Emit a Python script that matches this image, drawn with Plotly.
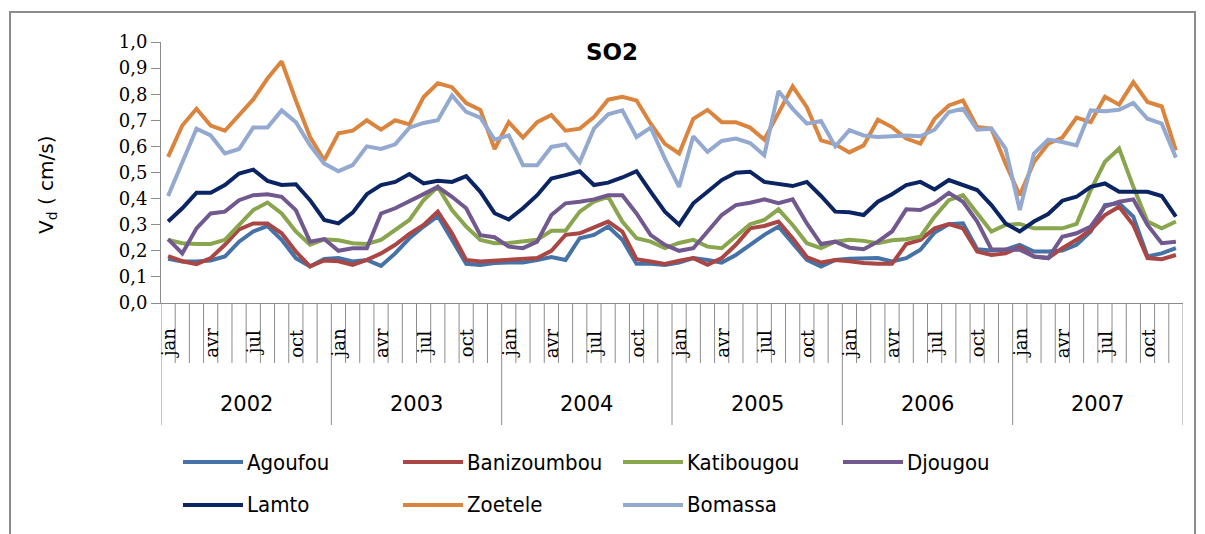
import plotly.graph_objects as go

# Monthly SO2 deposition velocity (cm/s), Jan 2002 - Dec 2007
years = ["2002", "2003", "2004", "2005", "2006", "2007"]
month_labels = ["jan", "", "", "avr", "", "", "jul", "", "", "oct", "", ""]

agoufou = [
    0.169, 0.159, 0.159, 0.163, 0.178, 0.235, 0.274, 0.295, 0.242, 0.172, 0.140, 0.169,
    0.172, 0.159, 0.165, 0.142, 0.190, 0.248, 0.293, 0.333, 0.242, 0.150, 0.146, 0.153,
    0.155, 0.155, 0.165, 0.176, 0.165, 0.248, 0.261, 0.293, 0.242, 0.150, 0.150, 0.146,
    0.155, 0.172, 0.165, 0.155, 0.184, 0.223, 0.261, 0.293, 0.229, 0.165, 0.140, 0.165,
    0.170, 0.172, 0.172, 0.159, 0.172, 0.204, 0.270, 0.302, 0.305, 0.206, 0.201, 0.204,
    0.223, 0.197, 0.197, 0.201, 0.223, 0.274, 0.375, 0.382, 0.331, 0.178, 0.190, 0.210,
]
banizoumbou = [
    0.180, 0.160, 0.149, 0.172, 0.223, 0.282, 0.305, 0.305, 0.267, 0.197, 0.140, 0.163,
    0.160, 0.146, 0.165, 0.190, 0.223, 0.265, 0.299, 0.350, 0.267, 0.165, 0.159, 0.163,
    0.164, 0.168, 0.172, 0.200, 0.261, 0.267, 0.289, 0.312, 0.274, 0.168, 0.159, 0.150,
    0.162, 0.172, 0.146, 0.172, 0.223, 0.286, 0.295, 0.312, 0.248, 0.176, 0.155, 0.165,
    0.160, 0.153, 0.150, 0.150, 0.226, 0.242, 0.286, 0.302, 0.286, 0.197, 0.184, 0.190,
    0.214, 0.178, 0.172, 0.210, 0.242, 0.280, 0.337, 0.369, 0.299, 0.172, 0.168, 0.184,
]
katibougou = [
    0.242, 0.229, 0.226, 0.226, 0.242, 0.300, 0.356, 0.385, 0.343, 0.274, 0.223, 0.244,
    0.240, 0.229, 0.226, 0.242, 0.280, 0.318, 0.394, 0.445, 0.356, 0.293, 0.242, 0.229,
    0.230, 0.235, 0.242, 0.277, 0.277, 0.350, 0.388, 0.407, 0.312, 0.248, 0.235, 0.210,
    0.230, 0.242, 0.216, 0.210, 0.254, 0.302, 0.318, 0.359, 0.299, 0.229, 0.210, 0.235,
    0.242, 0.238, 0.229, 0.240, 0.244, 0.254, 0.331, 0.394, 0.413, 0.343, 0.274, 0.299,
    0.303, 0.286, 0.286, 0.286, 0.303, 0.433, 0.541, 0.592, 0.445, 0.312, 0.286, 0.312,
]
djougou = [
    0.245, 0.190, 0.286, 0.343, 0.350, 0.394, 0.413, 0.417, 0.407, 0.356, 0.235, 0.245,
    0.200, 0.210, 0.210, 0.343, 0.363, 0.388, 0.417, 0.445, 0.407, 0.363, 0.260, 0.252,
    0.216, 0.210, 0.235, 0.337, 0.382, 0.388, 0.397, 0.413, 0.413, 0.343, 0.260, 0.223,
    0.200, 0.210, 0.274, 0.337, 0.375, 0.384, 0.397, 0.382, 0.397, 0.305, 0.226, 0.235,
    0.212, 0.206, 0.235, 0.274, 0.359, 0.356, 0.382, 0.422, 0.388, 0.312, 0.206, 0.206,
    0.204, 0.178, 0.172, 0.254, 0.267, 0.293, 0.369, 0.388, 0.397, 0.299, 0.229, 0.235,
]
lamto = [
    0.312, 0.363, 0.422, 0.422, 0.452, 0.496, 0.511, 0.468, 0.452, 0.455, 0.394, 0.318,
    0.305, 0.346, 0.417, 0.452, 0.464, 0.494, 0.458, 0.468, 0.464, 0.486, 0.426, 0.344,
    0.320, 0.363, 0.413, 0.477, 0.490, 0.505, 0.452, 0.461, 0.481, 0.505, 0.426, 0.350,
    0.300, 0.382, 0.426, 0.471, 0.499, 0.503, 0.464, 0.455, 0.448, 0.464, 0.410, 0.350,
    0.348, 0.337, 0.388, 0.417, 0.452, 0.464, 0.435, 0.471, 0.452, 0.433, 0.375, 0.305,
    0.274, 0.312, 0.341, 0.392, 0.407, 0.445, 0.458, 0.426, 0.426, 0.426, 0.410, 0.331,
]
zoetele = [
    0.560, 0.680, 0.744, 0.680, 0.660, 0.720, 0.780, 0.860, 0.926, 0.776, 0.636, 0.547,
    0.650, 0.660, 0.700, 0.664, 0.700, 0.684, 0.789, 0.842, 0.827, 0.766, 0.740, 0.590,
    0.693, 0.634, 0.693, 0.720, 0.660, 0.668, 0.712, 0.779, 0.790, 0.776, 0.687, 0.610,
    0.573, 0.706, 0.740, 0.693, 0.693, 0.672, 0.626, 0.728, 0.830, 0.750, 0.623, 0.608,
    0.577, 0.604, 0.702, 0.674, 0.630, 0.611, 0.706, 0.757, 0.776, 0.674, 0.668, 0.534,
    0.413, 0.540, 0.610, 0.634, 0.710, 0.693, 0.790, 0.760, 0.846, 0.770, 0.753, 0.585,
]
bomassa = [
    0.410, 0.540, 0.668, 0.642, 0.573, 0.590, 0.672, 0.672, 0.738, 0.693, 0.604, 0.534,
    0.505, 0.528, 0.600, 0.590, 0.608, 0.672, 0.690, 0.700, 0.795, 0.732, 0.710, 0.626,
    0.642, 0.528, 0.528, 0.598, 0.608, 0.540, 0.668, 0.723, 0.738, 0.636, 0.672, 0.553,
    0.445, 0.639, 0.579, 0.621, 0.630, 0.613, 0.566, 0.812, 0.744, 0.687, 0.697, 0.600,
    0.662, 0.642, 0.636, 0.639, 0.642, 0.639, 0.664, 0.732, 0.744, 0.664, 0.668, 0.592,
    0.356, 0.573, 0.626, 0.617, 0.604, 0.738, 0.735, 0.740, 0.766, 0.706, 0.687, 0.557,
]

series_names = ["Agoufou", "Banizoumbou", "Katibougou", "Djougou", "Lamto", "Zoetele", "Bomassa"]
series_values = [agoufou, banizoumbou, katibougou, djougou, lamto, zoetele, bomassa]
series_colors = ["#4572A7", "#AA4643", "#89A54E", "#71588F", "#0B2463", "#DB843D", "#93A9CF"]

W, H = 1205, 534
L, R, T, B = 161, 22, 42, 231
plot_w = W - L - R
plot_h = H - T - B


def px_x(p):
    return (p - L) / plot_w


def px_y(p):
    return (H - B - p) / plot_h


n_months = len(years) * 12
x_idx = list(range(n_months))

fig = go.Figure()
for name, vals, col in zip(series_names, series_values, series_colors):
    fig.add_trace(go.Scatter(
        x=x_idx, y=vals, mode="lines", name=name,
        line=dict(color=col, width=4), showlegend=False,
    ))

axis_grey = "#8C8C8C"
shapes = []
annotations = []

# Category boundaries: short ticks for months, long dividers for years
for k in range(n_months + 1):
    is_year = (k % 12 == 0)
    shapes.append(dict(
        type="line", xref="x", yref="paper",
        x0=k - 0.5, x1=k - 0.5, y0=0, y1=px_y(425 if is_year else 363),
        line=dict(color=axis_grey, width=1),
    ))

# Month labels (every third month) and year labels
for yi, yr in enumerate(years):
    for mi, ml in enumerate(month_labels):
        if ml:
            annotations.append(dict(
                x=yi * 12 + mi, y=px_y(343), xref="x", yref="paper",
                text=ml, textangle=-90, showarrow=False,
                xanchor="center", yanchor="middle",
                font=dict(family="DejaVu Serif", size=18, color="black"),
            ))
    annotations.append(dict(
        x=yi * 12 + 5.5, y=px_y(404), xref="x", yref="paper",
        text=yr, showarrow=False, xanchor="center", yanchor="middle",
        font=dict(family="DejaVu Sans", size=21, color="black"),
    ))

# Title and y-axis title
annotations.append(dict(
    x=px_x(612), y=px_y(52), xref="paper", yref="paper", text="<b>SO2</b>",
    showarrow=False, xanchor="center", yanchor="middle",
    font=dict(family="DejaVu Sans", size=23, color="black"),
))
annotations.append(dict(
    x=px_x(47), y=px_y(185), xref="paper", yref="paper",
    text="V<sub>d</sub> ( cm/s)", textangle=-90, showarrow=False,
    xanchor="center", yanchor="middle",
    font=dict(family="DejaVu Sans", size=20, color="black"),
))

# Legend drawn as line samples with labels
legend_cols = [183, 403, 623, 843]
legend_rows = [462, 505]
for i, (name, col) in enumerate(zip(series_names, series_colors)):
    lx = legend_cols[i % 4]
    ly = legend_rows[i // 4]
    shapes.append(dict(
        type="line", xref="paper", yref="paper",
        x0=px_x(lx), x1=px_x(lx + 60), y0=px_y(ly), y1=px_y(ly),
        line=dict(color=col, width=4),
    ))
    annotations.append(dict(
        x=px_x(lx + 62), y=px_y(ly), xref="paper", yref="paper",
        text=name, showarrow=False, xanchor="left", yanchor="middle",
        font=dict(family="DejaVu Sans Condensed", size=22, color="black"),
    ))

# Chart frame
shapes.append(dict(
    type="rect", xref="paper", yref="paper",
    x0=px_x(10), x1=px_x(1195), y0=px_y(545), y1=px_y(12),
    line=dict(color=axis_grey, width=2), fillcolor="rgba(0,0,0,0)", layer="below",
))

fig.update_layout(
    width=W, height=H,
    margin=dict(l=L, r=R, t=T, b=B, pad=0),
    paper_bgcolor="white", plot_bgcolor="white",
    separators=", ",
    showlegend=False,
    shapes=shapes, annotations=annotations,
    xaxis=dict(
        range=[-0.5, n_months - 0.5], showgrid=False, zeroline=False,
        showticklabels=False, ticks="", showline=True,
        linecolor=axis_grey, linewidth=1, fixedrange=True,
    ),
    yaxis=dict(
        range=[0, 1], dtick=0.1, tickformat=".1f", showgrid=False,
        zeroline=False, showline=True, linecolor=axis_grey, linewidth=1,
        ticks="outside", ticklen=9, tickcolor=axis_grey,
        tickfont=dict(family="DejaVu Serif", size=18, color="black"),
        fixedrange=True,
    ),
)

fig.write_html("out.html")
